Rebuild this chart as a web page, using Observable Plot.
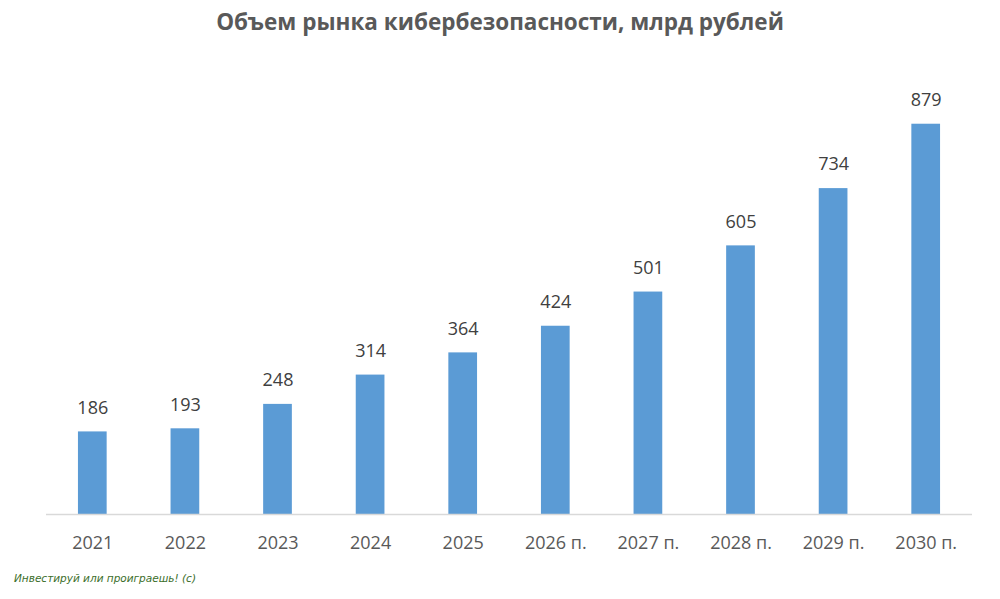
<!DOCTYPE html>
<html>
<head>
<meta charset="utf-8">
<script src="https://cdn.jsdelivr.net/npm/d3@7"></script>
<script src="https://cdn.jsdelivr.net/npm/@observablehq/plot@0.6"></script>
<style>
  html, body { margin: 0; padding: 0; background: #fff; }
  #title { height: 44px; line-height: 44px; text-align: center; font-family: "Open Sans", sans-serif; font-weight: bold; font-size: 22.5px; color: #595959; }
  #caption { height: 35px; line-height: 28px; padding-left: 14px; font-family: "DejaVu Sans", sans-serif; font-style: italic; font-size: 10.5px; color: #3b6e2a; }
  svg { display: block; }
</style>
</head>
<body>
<div id="title">Объем рынка кибербезопасности, млрд рублей</div>
<div id="chart"></div>
<div id="caption">Инвестируй или проиграешь! (с)</div>
<script>
const years = ["2021", "2022", "2023", "2024", "2025", "2026 п.", "2027 п.", "2028 п.", "2029 п.", "2030 п."];
const values = [186, 193, 248, 314, 364, 424, 501, 605, 734, 879];

const data = years.map((year, i) => ({year, value: values[i]}));

const chart = Plot.plot({
  width: 1000,
  height: 520,
  marginTop: 26,
  marginBottom: 50,
  marginLeft: 46,
  marginRight: 28,
  style: {fontFamily: "'Open Sans', sans-serif", background: "#fff"},
  x: {domain: years, paddingInner: 0.69, paddingOuter: 0.345, round: false, label: null},
  y: {domain: [0, 1000], axis: null},
  marks: [
    Plot.barY(data, {x: "year", y: "value", fill: "#5b9bd5"}),
    Plot.ruleY([0], {stroke: "#d9d9d9", strokeWidth: 1.5}),
    Plot.text(data, {x: "year", y: "value", text: d => String(d.value), dy: -24, fontSize: 18, fill: "#404040"}),
    Plot.axisX({tickSize: 0, tickPadding: 22, fontSize: 18, color: "#595959", lineAnchor: "top", label: null})
  ]
});
document.getElementById("chart").appendChild(chart);
</script>
</body>
</html>
